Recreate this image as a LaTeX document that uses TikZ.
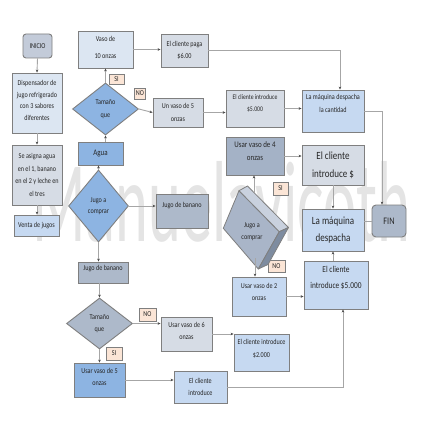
\documentclass[tikz,border=0pt]{standalone}
\usepackage{fontspec}
\setmainfont{Carlito}[FakeStretch=0.82]
\usetikzlibrary{shapes.geometric,arrows.meta,calc}
\definecolor{lblue}{HTML}{C6D9F1}
\definecolor{pblue}{HTML}{DCE6F2}
\definecolor{mblue}{HTML}{8DB4E2}
\definecolor{lgray}{HTML}{D6DCE5}
\definecolor{gblue}{HTML}{ADB9CA}
\definecolor{dgblue}{HTML}{A4B2C6}
\definecolor{inic}{HTML}{C3CBD9}
\definecolor{peach}{HTML}{FBE5D6}
\definecolor{bord}{HTML}{7F7F7F}
\definecolor{conn}{HTML}{A6A6A6}
\definecolor{txt}{HTML}{262626}
\definecolor{wm}{HTML}{E4E4E4}
\definecolor{cubefront}{HTML}{A9B5C8}
\definecolor{cubetopc}{HTML}{C9D1DE}
\definecolor{cuberight}{HTML}{7E8CA0}
\tikzset{
  box/.style={draw=bord, line width=0.9pt, inner sep=1pt, align=center, text=txt,
    font={\fontsize{7.5}{12}\selectfont}},
  dia/.style={draw=bord, line width=0.9pt, diamond, inner sep=0pt, align=center, text=txt,
    font={\fontsize{7.5}{12}\selectfont}},
  lab/.style={draw=bord, fill=peach, line width=0.6pt, inner sep=0pt, text=txt,
    font={\fontsize{7.5}{9}\selectfont}},
  arr/.style={draw=conn, line width=0.9pt, -{Stealth[length=3pt,width=2.6pt,color=black!70]}},
  ln/.style={draw=conn, line width=0.9pt},
}
\begin{document}
\begin{tikzpicture}[x=1pt,y=-1pt]
\fill[white] (0,0) rectangle (436,436);
\useasboundingbox (0,0) rectangle (436,436);
% watermark
\node[anchor=south west, inner sep=0pt, text=wm] (wmark) at (32,243) {\resizebox{378pt}{80pt}{Manuelavicoth}};

% left column
\node[box, rounded corners=3pt, fill=inic, minimum width=29pt, minimum height=24pt] (inicio) at (37.5,46) {INICIO};
\node[box, fill=pblue, minimum width=50pt, minimum height=60pt, font={\fontsize{7.5}{11.7}\selectfont}, text depth=5pt] (disp) at (37,103) {Dispensador de\\jugo refrigerado\\con 3 sabores\\diferentes};
\node[box, fill=lgray, minimum width=50pt, minimum height=60pt, font={\fontsize{7.5}{12.7}\selectfont}] (asigna) at (37,175) {Se asigna agua\\en el 1, banano\\en el 2 y leche en\\el tres};
\node[box, fill=lblue, minimum width=45pt, minimum height=21pt] (venta) at (36.5,225.5) {Venta de jugos};

% second column
\node[box, fill=pblue, minimum width=55pt, minimum height=37pt, font={\fontsize{7.5}{17}\selectfont}, text depth=5pt] (vaso10) at (105.5,49.5) {Vaso de\\10 onzas};
\node[dia, fill=mblue, minimum width=66pt, minimum height=52pt, aspect=1.27, font={\fontsize{7.5}{13}\selectfont}] (tam1) at (105.5,109) {Tamaño\\que};
\node[lab, minimum width=15pt, minimum height=10pt] (si1) at (116.5,79.5) {SI};
\node[lab, minimum width=11pt, minimum height=11pt] (no1) at (140,93.5) {NO};
\node[box, fill=mblue, minimum width=45pt, minimum height=23pt, font={\fontsize{8.5}{10}\selectfont}] (agua) at (100.5,153.5) {Agua};
\node[dia, fill=mblue, minimum width=60pt, minimum height=72pt, aspect=0.83, font={\fontsize{7.5}{11}\selectfont}] (jac1) at (98.5,206) {Jugo a\\comprar};
\node[box, fill=gblue, minimum width=50pt, minimum height=21pt, text depth=9pt] (ban1) at (103,272.5) {Jugo de banano};
\node[dia, fill=gblue, minimum width=66pt, minimum height=51pt, aspect=1.3] (tam2) at (99.5,323.5) {Tamaño\\que};
\node[lab, minimum width=17pt, minimum height=13pt] (no2) at (147.5,314.5) {NO};
\node[lab, minimum width=16pt, minimum height=13pt] (si2) at (114,353.5) {SI};
\node[box, fill=mblue, minimum width=51pt, minimum height=34pt, font={\fontsize{7.5}{11.5}\selectfont}, text depth=6pt] (vaso5b) at (99.5,380) {Usar vaso de 5\\onzas};

% third column
\node[box, fill=lgray, minimum width=47pt, minimum height=33pt] (paga) at (184.5,50.5) {El cliente paga\\\$6.00};
\node[box, fill=lgray, minimum width=50pt, minimum height=29pt, font={\fontsize{7.5}{13}\selectfont}] (unvaso) at (178,112.5) {Un vaso de 5\\onzas};
\node[box, fill=gblue, minimum width=52pt, minimum height=34pt, text depth=13pt] (ban2) at (182,211) {Jugo de banano};
\node[box, fill=lgray, minimum width=51pt, minimum height=34pt, text depth=7pt] (vaso6) at (186.5,334) {Usar vaso de 6\\onzas};
\node[box, fill=lblue, minimum width=53pt, minimum height=32pt] (clibot) at (200.5,387) {El cliente\\introduce};

% fourth column
\node[box, fill=lgray, minimum width=58pt, minimum height=37pt, font={\fontsize{7}{12}\selectfont}, text depth=10pt] (cli5a) at (255,108.5) {El cliente introduce\\\$5.000};
\node[box, fill=dgblue, minimum width=58pt, minimum height=38pt, font={\fontsize{8.5}{13}\selectfont}, text depth=10pt] (vaso4) at (255,156) {Usar vaso de 4\\onzas};
\node[box, fill=lblue, minimum width=54pt, minimum height=39pt, text depth=9pt] (vaso2) at (259,296.5) {Usar vaso de 2\\onzas};
\node[box, fill=lblue, minimum width=55pt, minimum height=37pt, font={\fontsize{7.5}{13}\selectfont}, text depth=8pt] (cli2000) at (261.5,352.5) {El cliente introduce\\\$2.000};
\node[lab, minimum width=17pt, minimum height=12pt] (no3) at (276.5,266) {NO};
\node[lab, minimum width=15pt, minimum height=13pt] (si3) at (280.5,188.5) {SI};

% 3D cube
\draw[draw=bord, line width=0.8pt, line join=round, fill=cubefront] (239,190.7) -- (279.3,231.7) -- (258.3,269) -- (223.3,228.3) -- cycle;
\draw[draw=bord, line width=0.8pt, line join=round, fill=cubetopc] (239,190.7) -- (247.5,186) -- (288.5,227.5) -- (279.3,231.7) -- cycle;
\draw[draw=bord, line width=0.8pt, line join=round, fill=cuberight] (279.3,231.7) -- (288.5,227.5) -- (268,264.5) -- (258.3,269) -- cycle;
\node[inner sep=0pt, align=center, text=txt, font={\fontsize{7.5}{12}\selectfont}] (cube) at (252,232) {Jugo a\\comprar};
\coordinate (cubetop) at (254,193);
\coordinate (cubebot) at (255,258);

% right columns
\node[box, fill=lblue, minimum width=62pt, minimum height=42pt, font={\fontsize{7.5}{13}\selectfont}, text depth=15pt] (maqc) at (333,111) {La máquina despacha\\la cantidad};
\node[box, fill=lgray, minimum width=62pt, minimum height=40pt, font={\fontsize{11}{18}\selectfont}] (clid) at (333,165) {El cliente\\introduce \$};
\node[box, fill=lblue, minimum width=62pt, minimum height=42pt, font={\fontsize{11}{17}\selectfont}] (maq) at (333,230) {La máquina\\despacha};
\node[box, fill=lblue, minimum width=64pt, minimum height=48pt, font={\fontsize{9}{16}\selectfont}, text depth=15pt] (cli5b) at (336,285) {El cliente\\introduce \$5.000};
\node[box, rounded corners=4pt, fill=gblue, minimum width=34pt, minimum height=32pt, font={\fontsize{10}{12}\selectfont}] (fin) at (389,221) {FIN};

% connectors
\draw[arr] (inicio.south) -- (disp.north);
\draw[arr] (disp.south) -- (asigna.north);
\draw[arr] (asigna.south) -- (asigna.south |- venta.north);
\draw[arr] (tam1.north) -- (tam1.north |- vaso10.south);
\draw[arr] (vaso10.east) -- (vaso10.east -| paga.west);
\draw[arr] (paga.east) -| ([xshift=7pt]maqc.north);
\draw[arr] (tam1.east) -- (unvaso.west);
\draw[arr] (unvaso.east) -- (unvaso.east -| cli5a.west);
\draw[arr] (cli5a.east) -- (cli5a.east -| maqc.west);
\draw[arr] (maqc.east) -| ([xshift=-7pt]fin.north);
\draw[arr] (agua.north -| tam1.south) -- (tam1.south);
\draw[arr] (jac1.north) -- (jac1.north |- agua.south);
\draw[arr] (jac1.east) -- (jac1.east -| ban2.west);
\draw[arr] (jac1.south) -- (jac1.south |- ban1.north);
\draw[arr] (ban1.south -| tam2.north) -- (tam2.north);
\draw[arr] (tam2.east) -- (tam2.east -| vaso6.west);
\draw[arr] (tam2.south) -- (tam2.south |- vaso5b.north);
\draw[arr] (vaso6.east) -- (vaso6.east -| cli2000.west);
\draw[arr] (vaso5b.east) -- (vaso5b.east -| clibot.west);
\draw[arr] (clibot.east) -| ([xshift=7pt]cli5b.south);
\draw[arr] (vaso2.east) -- (vaso2.east -| cli5b.west);
\draw[arr] (cli5b.north -| maq.south) -- (maq.south);
\draw[arr] (vaso4.east) -- (vaso4.east -| clid.west);
\draw[arr] (clid.south) -- (maq.north);
\draw[ln] (fin.west -| maq.east) -- (fin.west);
\draw[arr] (cubetop) -- (cubetop |- vaso4.south);
\draw[arr] (cubebot) -- (cubebot |- vaso2.north);
\end{tikzpicture}
\end{document}
